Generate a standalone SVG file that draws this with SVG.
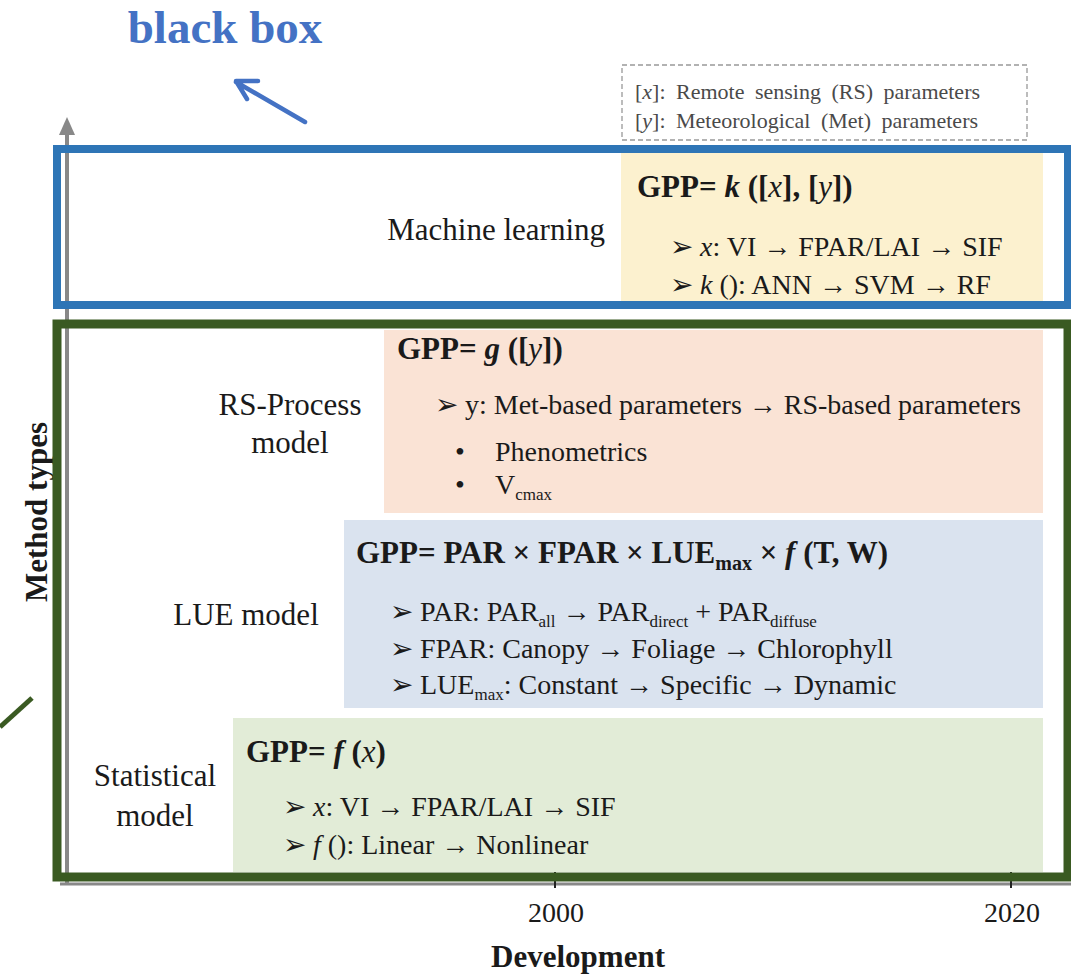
<svg xmlns="http://www.w3.org/2000/svg" width="1071" height="974" viewBox="0 0 1071 974">
<defs>
<style>
text{font-family:"Liberation Serif","Times New Roman",serif;fill:#1a1a1a}
.lbl{font-size:31px}
.eq{font-size:31px;font-weight:bold}
.it{font-style:italic}
.item{font-size:28px}
.leg{font-size:22px;fill:#4a4a4a;word-spacing:5px}
.ax{font-size:31px;font-weight:bold}
.yr{font-size:28px}
.sub{font-size:17px}
</style>
</defs>
<rect width="1071" height="974" fill="#fff"/>

<g id="legend">
<rect x="622" y="65" width="405" height="75" fill="none" stroke="#999" stroke-width="1.3" stroke-dasharray="5,3"/>
<text class="leg" x="635" y="99">[<tspan class="it">x</tspan>]: Remote sensing (RS) parameters</text>
<text class="leg" x="635" y="128">[<tspan class="it">y</tspan>]: Meteorological (Met) parameters</text>
</g>

<g id="ml-box">
<rect x="621" y="153" width="422" height="149" fill="#fcf1cf"/>
<text class="lbl" x="605" y="240" text-anchor="end">Machine learning</text>
<text class="eq" x="637" y="197">GPP= <tspan class="it">k</tspan> ([<tspan class="it" font-weight="normal">x</tspan>], [<tspan class="it" font-weight="normal">y</tspan>])</text>
<text class="item" x="670" y="256">➢ <tspan class="it">x</tspan>: VI → FPAR/LAI → SIF</text>
<text class="item" x="670" y="294">➢ <tspan class="it">k</tspan> (): ANN → SVM → RF</text>
</g>

<g id="rs-box">
<rect x="384" y="330" width="659" height="183" fill="#fae3d5"/>
<text class="lbl" x="290" y="415" text-anchor="middle">RS-Process</text>
<text class="lbl" x="290" y="453" text-anchor="middle">model</text>
<text class="eq" x="397" y="359">GPP= <tspan class="it">g</tspan> ([<tspan class="it" font-weight="normal">y</tspan>])</text>
<text class="item" x="435" y="414">➢ y: Met-based parameters → RS-based parameters</text>
<text class="item" x="455" y="461">•</text>
<text class="item" x="495" y="461">Phenometrics</text>
<text class="item" x="455" y="494">•</text>
<text class="item" x="495" y="494">V<tspan class="sub" dy="6">cmax</tspan></text>
</g>

<g id="lue-box">
<rect x="344" y="520" width="699" height="188" fill="#dae3ef"/>
<text class="lbl" x="246" y="625" text-anchor="middle">LUE model</text>
<text class="eq" x="356" y="563">GPP= PAR × FPAR × LUE<tspan font-size="20" dy="7">max</tspan><tspan dy="-7"> × </tspan><tspan class="it">f</tspan> (T, W)</text>
<text class="item" x="390" y="621">➢ PAR: PAR<tspan class="sub" dy="6">all</tspan><tspan dy="-6"> → PAR</tspan><tspan class="sub" dy="6">direct</tspan><tspan dy="-6"> + PAR</tspan><tspan class="sub" dy="6">diffuse</tspan></text>
<text class="item" x="390" y="658">➢ FPAR: Canopy → Foliage → Chlorophyll</text>
<text class="item" x="390" y="694">➢ LUE<tspan class="sub" dy="6">max</tspan><tspan dy="-6">: Constant → Specific → Dynamic</tspan></text>
</g>

<g id="stat-box">
<rect x="233" y="718" width="810" height="154" fill="#e2ecd7"/>
<text class="lbl" x="155" y="786" text-anchor="middle">Statistical</text>
<text class="lbl" x="155" y="826" text-anchor="middle">model</text>
<text class="eq" x="246" y="762">GPP= <tspan class="it">f</tspan> (<tspan class="it" font-weight="normal">x</tspan>)</text>
<text class="item" x="283" y="816">➢ <tspan class="it">x</tspan>: VI → FPAR/LAI → SIF</text>
<text class="item" x="283" y="854">➢ <tspan class="it">f</tspan> (): Linear → Nonlinear</text>
</g>

<g id="axes">
<line x1="67" y1="884" x2="67" y2="132" stroke="#888" stroke-width="4"/>
<polygon points="67,117 59,135 75,135" fill="#888"/>
<line x1="60" y1="884" x2="1071" y2="884" stroke="#888" stroke-width="3"/>
<line x1="555" y1="872" x2="555" y2="888" stroke="#222" stroke-width="2"/>
<line x1="1011" y1="872" x2="1011" y2="888" stroke="#222" stroke-width="2"/>
<text class="yr" x="556" y="922" text-anchor="middle">2000</text>
<text class="yr" x="1012" y="922" text-anchor="middle">2020</text>
<text class="ax" x="578" y="967" text-anchor="middle">Development</text>
<text class="ax" transform="translate(47,512) rotate(-90)" text-anchor="middle">Method types</text>
</g>

<g id="highlight-frames">
<rect x="57" y="149" width="1011" height="156" fill="none" stroke="#2e75b6" stroke-width="8"/>
<rect x="57" y="324" width="1011" height="553" fill="none" stroke="#3a5a22" stroke-width="9"/>
</g>

<g id="annotation">
<text x="225" y="43" text-anchor="middle" font-size="47" font-weight="bold" style="fill:#4472c4">black box</text>
</g>

<g id="connectors">
<path d="M305,122 L236,82 M258,81 L236,81 L247,99" fill="none" stroke="#4472c4" stroke-width="4.5" stroke-linecap="round" stroke-linejoin="round"/>
<line x1="0" y1="727" x2="32" y2="698" stroke="#3a5a22" stroke-width="5"/>
</g>
</svg>
